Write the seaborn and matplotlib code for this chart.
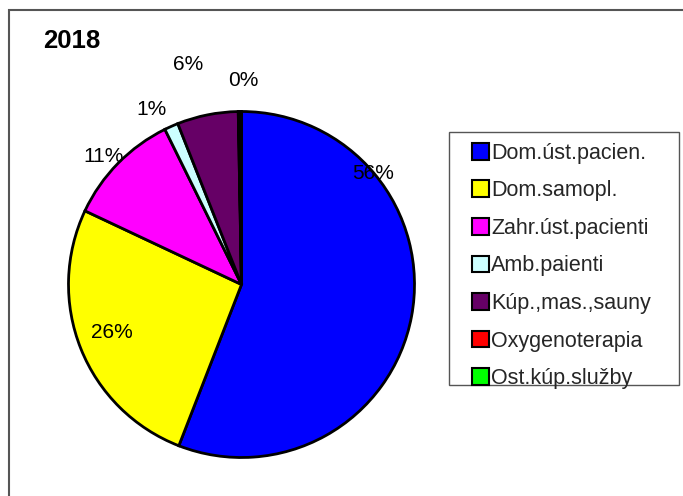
import matplotlib
matplotlib.use("Agg")
import matplotlib.pyplot as plt
from matplotlib.patches import Rectangle, Patch
from matplotlib.legend_handler import HandlerPatch
import seaborn as sns

sns.set_theme(style="white")
plt.rcParams['font.family'] = ['Liberation Sans', 'DejaVu Sans']

# ---- data ----
title = "2018"
categories = ["Dom.úst.pacien.", "Dom.samopl.", "Zahr.úst.pacienti", "Amb.paienti",
              "Kúp.,mas.,sauny", "Oxygenoterapia", "Ost.kúp.služby"]
values = [55.9, 26.1, 10.7, 1.3, 5.7, 0.05, 0.25]
colors = ["#0000FF", "#FFFF00", "#FF00FF", "#CCFFFF", "#660066", "#FF0000", "#00FF00"]

# label placement (pie radius units), layout only
label_pos = [(0.760, 0.639), (-0.749, -0.275), (-0.798, 0.737), (-0.523, 1.009),
             (-0.309, 1.269), (0.009, 1.179), (0.009, 1.179)]

W, H = 683, 496
fig = plt.figure(figsize=(W / 100, H / 100), dpi=100)
fig.patch.set_facecolor("white")

# outer chart frame
fig.patches.append(Rectangle((9 / W, -0.1), 2.0, 1.1 - 10 / H, transform=fig.transFigure,
                             fill=False, edgecolor="#555555", linewidth=1.5, zorder=0))
# legend frame
fig.patches.append(Rectangle((449 / W, 1 - 385 / H), (679 - 449) / W, (385 - 132) / H,
                             transform=fig.transFigure, fill=False,
                             edgecolor="#555555", linewidth=1.0, zorder=0))

cx, cy, r = 241.5, 284.5, 173
ax = fig.add_axes([(cx - r) / W, (H - cy - r) / H, 2 * r / W, 2 * r / H])
wedges, _ = ax.pie(values, colors=colors, startangle=90, counterclock=False, radius=1,
                   wedgeprops=dict(edgecolor="black", linewidth=2.0))
ax.set_xlim(-1, 1)
ax.set_ylim(-1, 1)
ax.set_aspect("equal")
ax.axis("off")

total = sum(values)
seen = set()
for v, pos in zip(values, label_pos):
    if pos in seen:
        continue
    seen.add(pos)
    ax.text(pos[0], pos[1], f"{round(v / total * 100):.0f}%", ha="center", va="center",
            fontsize=15, color="black", clip_on=False)

fig.text(71.5 / W, 1 - 41 / H, title, ha="center", va="center", fontsize=18.5,
         fontweight="bold", color="black")


def square(legend, orig_handle, xdescent, ydescent, width, height, fontsize):
    s = 12.0
    return Rectangle((-xdescent + width - s, -ydescent + (height - s) / 2), s, s)


handles = [Patch(facecolor=c, edgecolor="black", linewidth=1.5) for c in colors]
leg = fig.legend(handles, categories, loc="upper left",
                 bbox_to_anchor=(452 / W, 1 - 132 / H), bbox_transform=fig.transFigure,
                 fontsize=15.5, frameon=False,
                 handlelength=1.2, handleheight=0.7, handletextpad=0.12,
                 labelspacing=0.77, borderpad=0.5, borderaxespad=0,
                 handler_map={Patch: HandlerPatch(patch_func=square)})

fig.savefig("out.png", dpi=100)
